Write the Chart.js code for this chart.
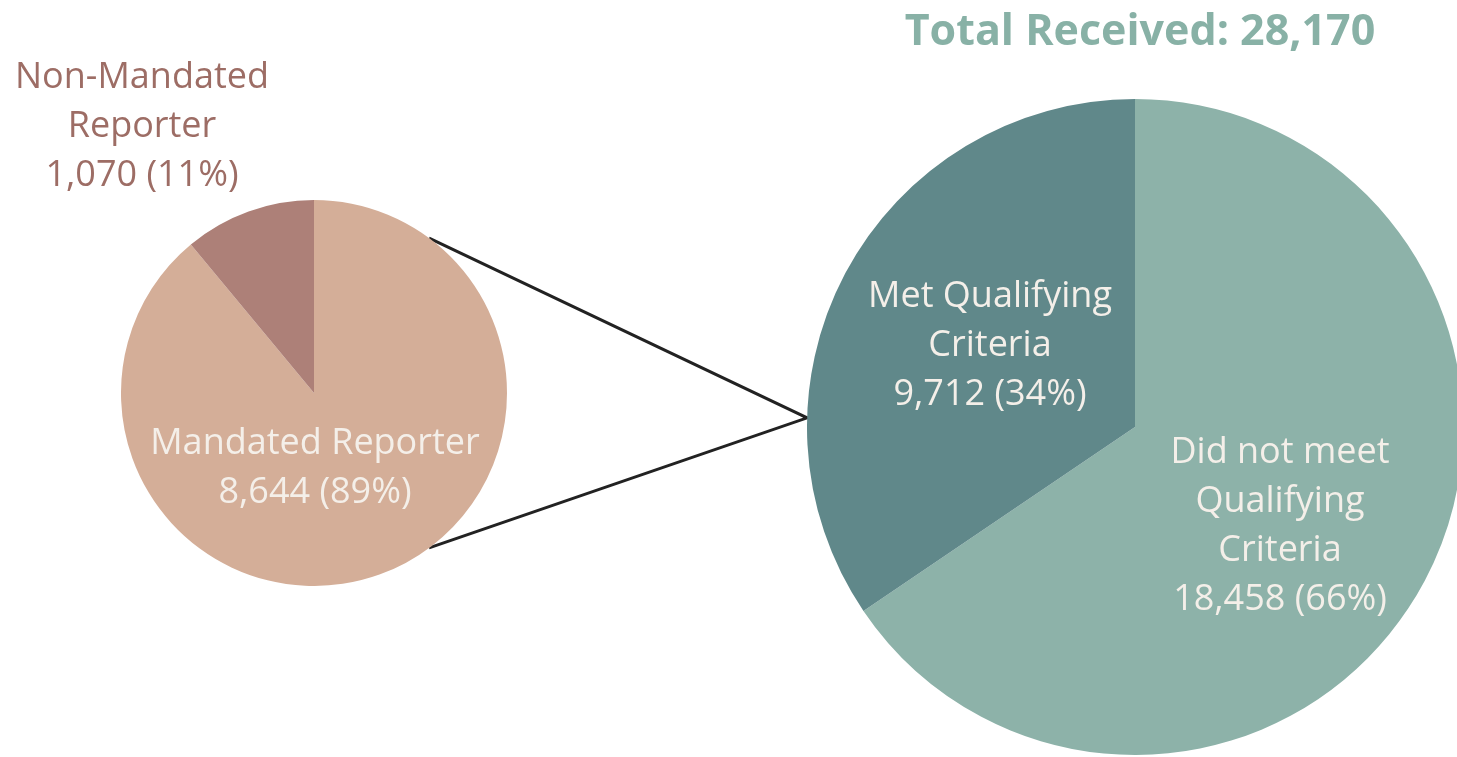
<!DOCTYPE html>
<html>
<head>
<meta charset="utf-8">
<script src="https://cdn.jsdelivr.net/npm/chart.js@4"></script>
<style>
  html, body { margin: 0; padding: 0; background: #fff; overflow: hidden; }
  body { width: 1457px; height: 757px; position: relative; font-family: "Open Sans", sans-serif; }
  canvas { position: absolute; }
  .lbl { position: absolute; text-align: center; font-size: 36px; line-height: 49px; white-space: nowrap; transform: translateX(-50%); }
  .in { color: #f4efe9; }
</style>
</head>
<body>
<canvas id="lines" width="1457" height="757" style="left:0;top:0"></canvas>
<canvas id="pieLeft" width="386" height="386" style="left:121px;top:200px"></canvas>
<canvas id="pieRight" width="656" height="656" style="left:807px;top:99px"></canvas>

<div class="lbl" id="title" style="left:1140px;top:4px;font-size:43px;font-weight:700;color:#88b1a6"></div>
<div class="lbl" id="lblNon" style="left:142px;top:50px;color:#9d6d65"></div>
<div class="lbl in" id="lblMand" style="left:315px;top:416px"></div>
<div class="lbl in" id="lblMet" style="left:990px;top:269px"></div>
<div class="lbl in" id="lblNot" style="left:1280px;top:425px"></div>

<script>
// reports received (left pie)
const leftLabels = ['Mandated Reporter', 'Non-Mandated Reporter'];
const leftValues = [8644, 1070];
const leftColors = ['#d4ae98', '#ad8078'];

// screening result (right pie)
const rightLabels = ['Did not meet Qualifying Criteria', 'Met Qualifying Criteria'];
const rightValues = [18458, 9712];
const rightColors = ['#8db2a9', '#60888a'];

const totalReceived = 28170;

function fmt(n) { return n.toLocaleString('en-US'); }
function pct(v, arr) {
    var s = arr.reduce((a, b) => a + b, 0);
    return Math.round(v / s * 100) + '%';
}

function pieConfig(labels, values, colors) {
    return {
        type: 'pie',
        data: {
            labels: labels,
            datasets: [{
                data: values,
                backgroundColor: colors,
                borderWidth: 0
            }]
        },
        options: {
            responsive: false,
            animation: false,
            layout: { padding: 0 },
            plugins: { legend: { display: false }, tooltip: { enabled: false } }
        }
    };
}

var leftChart = new Chart(document.getElementById('pieLeft'), pieConfig(leftLabels, leftValues, leftColors));
var rightChart = new Chart(document.getElementById('pieRight'), pieConfig(rightLabels, rightValues, rightColors));

// labels
document.getElementById('title').textContent = 'Total Received: ' + fmt(totalReceived);
document.getElementById('lblNon').innerHTML = 'Non-Mandated<br>Reporter<br>' + fmt(leftValues[1]) + ' (' + pct(leftValues[1], leftValues) + ')';
document.getElementById('lblMand').innerHTML = 'Mandated Reporter<br>' + fmt(leftValues[0]) + ' (' + pct(leftValues[0], leftValues) + ')';
document.getElementById('lblMet').innerHTML = 'Met Qualifying<br>Criteria<br>' + fmt(rightValues[1]) + ' (' + pct(rightValues[1], rightValues) + ')';
document.getElementById('lblNot').innerHTML = 'Did not meet<br>Qualifying<br>Criteria<br>' + fmt(rightValues[0]) + ' (' + pct(rightValues[0], rightValues) + ')';

// connector lines from the small pie to the big one
function drawLines() {
    var a = leftChart.getDatasetMeta(0).data[0];
    var b = rightChart.getDatasetMeta(0).data[0];
    var lc = leftChart.canvas, rc = rightChart.canvas;
    var lx = lc.offsetLeft + a.x, ly = lc.offsetTop + a.y, lr = a.outerRadius;
    var rx = rc.offsetLeft + b.x, ry = rc.offsetTop + b.y, rr = b.outerRadius;
    var ang = 53.4 * Math.PI / 180;
    var tipAng = Math.PI + 1.6 * Math.PI / 180;
    var tx = rx + rr * Math.cos(tipAng), ty = ry + rr * Math.sin(tipAng);

    var ctx = document.getElementById('lines').getContext('2d');
    ctx.strokeStyle = '#222';
    ctx.lineWidth = 3;
    ctx.beginPath();
    ctx.moveTo(lx + lr * Math.cos(-ang), ly + lr * Math.sin(-ang));
    ctx.lineTo(tx, ty);
    ctx.lineTo(lx + lr * Math.cos(ang), ly + lr * Math.sin(ang));
    ctx.stroke();
}
drawLines();
</script>
</body>
</html>
